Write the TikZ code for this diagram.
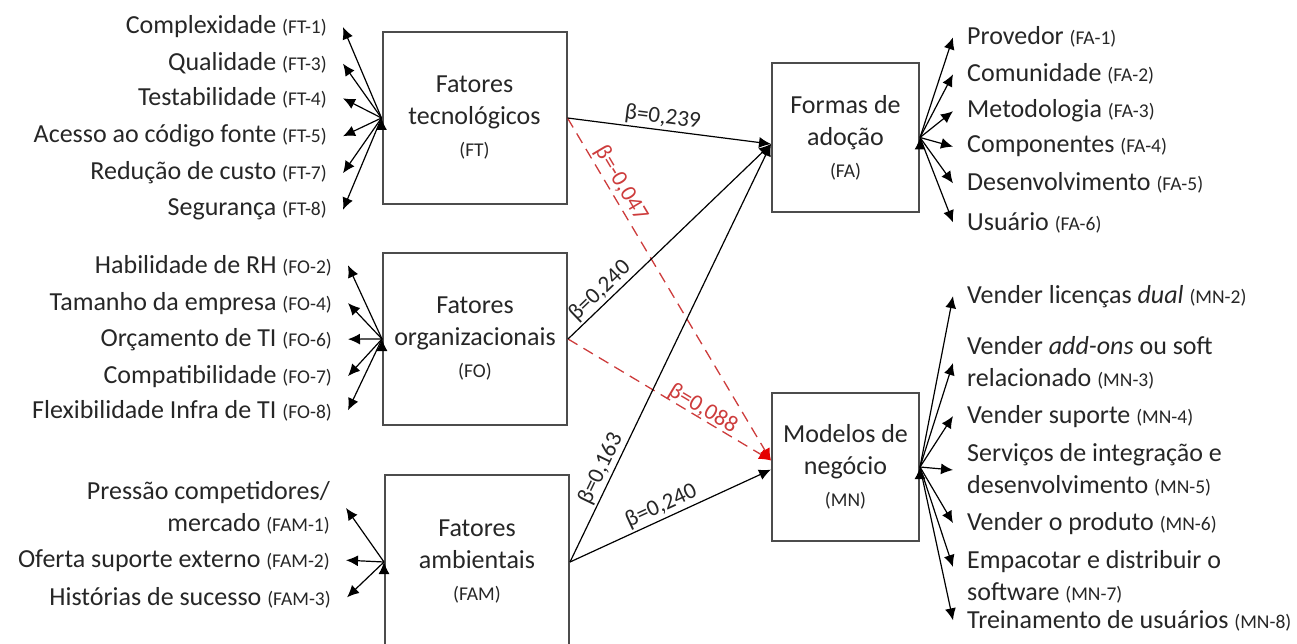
\documentclass[tikz,border=0pt]{standalone}
\usepackage{fontspec}
\setmainfont{Carlito}
\usetikzlibrary{arrows.meta}

\definecolor{vermelho}{RGB}{205,60,60}
\newcommand{\cod}[1]{{\fontsize{19.5}{23}\selectfont(#1)}}

\begin{document}
\begin{tikzpicture}[x=1pt,y=-1pt,font=\fontsize{26}{32}\selectfont,text=black!85,
    caixa/.style={draw=black!70,line width=2pt,minimum width=184pt,minimum height=172pt,align=center},
    caixad/.style={caixa,minimum width=147pt,minimum height=148pt},
    esq/.style={anchor=base east,inner ysep=0pt,inner xsep=16pt},
    esqm/.style={anchor=east,inner ysep=0pt,inner xsep=16pt,align=right},
    dir/.style={anchor=base west,inner ysep=0pt,inner xsep=14pt},
    dirm/.style={anchor=west,inner ysep=0pt,inner xsep=14pt,align=left},
    seta/.style={draw=black,line width=1.2pt,-{Latex[length=12pt,width=11pt]}},
    tracejada/.style={draw=vermelho,line width=1.3pt,dash pattern=on 11pt off 7pt,-{Latex[length=12pt,width=11pt,color=red!90!black]}},
    rotulo/.style={sloped,above,inner sep=2pt,font=\fontsize{23}{27}\selectfont},
    rotulov/.style={rotulo,text=vermelho}]

    \useasboundingbox (0,0) rectangle (1297,644);

    \node[caixa] (ft) at (474.5,118) {Fatores\\tecnológicos\\\cod{FT}};
    \node[caixa] (fo) at (475,339) {Fatores\\organizacionais\\\cod{FO}};
    \node[caixa,minimum height=174pt] (fam) at (477,562) {Fatores\\ambientais\\\cod{FAM}};
    \node[caixad,minimum height=149pt] (fa) at (845.5,137.5) {Formas de\\adoção\\\cod{FA}};
    \node[caixad] (mn) at (845.5,467) {Modelos de\\negócio\\\cod{MN}};

    \node[esq] (ft1) at (343,34) {Complexidade \cod{FT-1}};
    \node[esq] (ft3) at (343,71) {Qualidade \cod{FT-3}};
    \node[esq] (ft4) at (343,106) {Testabilidade \cod{FT-4}};
    \node[esq] (ft5) at (343,143) {Acesso ao código fonte \cod{FT-5}};
    \node[esq] (ft7) at (343,180) {Redução de custo \cod{FT-7}};
    \node[esq] (ft8) at (343,216) {Segurança \cod{FT-8}};

    \node[esq] (fo2) at (348,273) {Habilidade de RH \cod{FO-2}};
    \node[esq] (fo4) at (348,310) {Tamanho da empresa \cod{FO-4}};
    \node[esq] (fo6) at (348,346) {Orçamento de TI \cod{FO-6}};
    \node[esq] (fo7) at (348,383) {Compatibilidade \cod{FO-7}};
    \node[esq] (fo8) at (348,418) {Flexibilidade Infra de TI \cod{FO-8}};

    \node[esqm] (fam1) at (346,508) {Pressão competidores/\\mercado \cod{FAM-1}};
    \node[esq] (fam2) at (346,567) {Oferta suporte externo \cod{FAM-2}};
    \node[esq] (fam3) at (347,605) {Histórias de sucesso \cod{FAM-3}};

    \node[dir] (fa1) at (953,45) {Provedor \cod{FA-1}};
    \node[dir] (fa2) at (953,82) {Comunidade \cod{FA-2}};
    \node[dir] (fa3) at (953,118) {Metodologia \cod{FA-3}};
    \node[dir] (fa4) at (953,153) {Componentes \cod{FA-4}};
    \node[dir] (fa5) at (953,191) {Desenvolvimento \cod{FA-5}};
    \node[dir] (fa6) at (953,230) {Usuário \cod{FA-6}};

    \node[dir] (mn2) at (953,303) {Vender licenças \textit{dual} \cod{MN-2}};
    \node[dirm] (mn3) at (953,363) {Vender \textit{add-ons} ou soft\\relacionado \cod{MN-3}};
    \node[dir] (mn4) at (953,423) {Vender suporte \cod{MN-4}};
    \node[dirm] (mn5) at (953,470) {Serviços de integração e\\desenvolvimento \cod{MN-5}};
    \node[dir] (mn6) at (953,530) {Vender o produto \cod{MN-6}};
    \node[dirm] (mn7) at (953,577) {Empacotar e distribuir o\\software \cod{MN-7}};
    \node[dir] (mn8) at (953,628) {Treinamento de usuários \cod{MN-8}};

    \draw[seta] (ft.west) edge (ft1.east) edge (ft3.east) edge (ft4.east) edge (ft5.east) edge (ft7.east) edge (ft8.east);
    \draw[seta] (fo.west) edge (fo2.east) edge (fo4.east) edge (fo6.east) edge (fo7.east) edge (fo8.east);
    \draw[seta] (fam.west) edge (fam1.east) edge (fam2.east) edge (fam3.east);
    \draw[seta] (fa.east) edge (fa1.west) edge (fa2.west) edge (fa3.west) edge (fa4.west) edge (fa5.west) edge (fa6.west);
    \draw[seta] (mn.east) edge (mn2.west) edge (mn3.west) edge (mn4.west) edge (mn5.west) edge (mn6.west) edge ([yshift=10pt]mn7.west) edge (mn8.west);

    \draw[tracejada] (ft.east) -- node[rotulov,pos=0.21] {β=-0,047} (mn.175);
    \draw[tracejada] (fo.east) -- node[rotulov,pos=0.64,above=-3pt] {β=0,088} (mn.175);
    \draw[seta] (ft.east) -- node[rotulo,pos=0.46] {β=0,239} (fa.185);
    \draw[seta] (fo.east) -- node[rotulo,pos=0.2] {β=0,240} (fa.185);
    \draw[seta] (fam.east) -- node[rotulo,pos=0.21] {β=0,163} (fa.185);
    \draw[seta] (fam.east) -- node[rotulo,pos=0.48] {β=0,240} (mn.182);

\end{tikzpicture}
\end{document}
